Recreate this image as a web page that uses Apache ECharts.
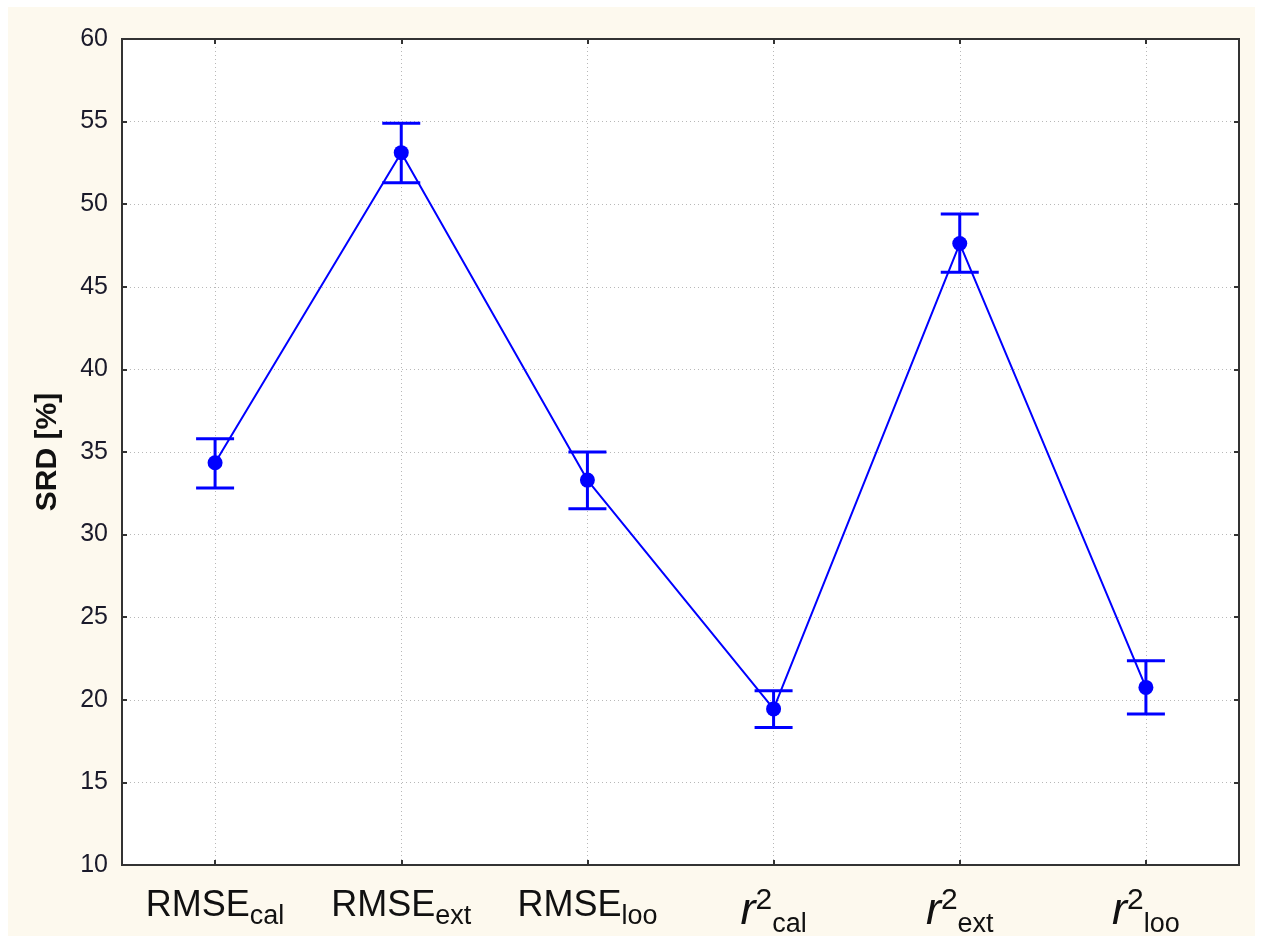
<!DOCTYPE html>
<html><head><meta charset="utf-8">
<script src="https://cdn.jsdelivr.net/npm/echarts@6/dist/echarts.min.js"></script>
<style>
html,body{margin:0;padding:0;background:#fff;}
#bg{position:absolute;left:8px;top:7px;width:1247px;height:929px;background:#fdf9ee;}
#chart{position:absolute;left:0;top:0;width:1263px;height:943px;}
</style></head><body>
<div id="bg"></div><div id="chart"></div>
<script>
// ---- data ----
const labelMain = ['RMSE', 'RMSE', 'RMSE', 'r', 'r', 'r'];
const labelSub = ['cal', 'ext', 'loo', 'cal', 'ext', 'loo'];
const means = [34.35, 53.12, 33.30, 19.45, 47.62, 20.75];
const lower = [32.82, 51.30, 31.56, 18.33, 45.88, 19.14];
const upper = [35.80, 54.90, 35.00, 20.55, 49.41, 22.37];
const yMin = 10, yMax = 60, yStep = 5;
const yName = 'SRD [%]';

const BLUE = '#0000ff';
const FONT = 'Liberation Sans, Arial, sans-serif';

function xLabel(value) {
  const i = Math.round(value);
  if (Math.abs(value - i) > 1e-6 || i < 0 || i >= labelMain.length) return '';
  if (labelMain[i] === 'r') return '{r|r}{p|2}{q|' + labelSub[i] + '}';
  return '{m|' + labelMain[i] + '}{s|' + labelSub[i] + '}';
}

const chart = echarts.init(document.getElementById('chart'), null, {renderer: 'canvas'});
const option = {
  animation: false,
  backgroundColor: 'transparent',
  grid: {
    left: 122, right: 24, top: 39, bottom: 78,
    show: true, backgroundColor: '#ffffff', borderColor: '#333', borderWidth: 2
  },
  xAxis: [{
    type: 'value', min: -0.5, max: labelMain.length - 0.5, splitNumber: 6,
    position: 'bottom',
    axisLine: {show: true, onZero: false, lineStyle: {color: '#333', width: 2}},
    axisTick: {show: true, inside: true, length: 5, lineStyle: {color: '#333', width: 2}},
    splitLine: {show: true, lineStyle: {color: '#b8b8b8', width: 1, type: [1, 3]}},
    axisLabel: {
      margin: 5, formatter: xLabel, color: '#111', fontFamily: FONT,
      rich: {
        m: {fontSize: 36, lineHeight: 36, fontFamily: FONT, color: '#111', verticalAlign: 'top', padding: [18, 0, 0, 0]},
        s: {fontSize: 27, lineHeight: 27, fontFamily: FONT, color: '#111', verticalAlign: 'top', padding: [33, 0, 0, 0]},
        r: {fontSize: 45, lineHeight: 45, fontFamily: FONT, fontStyle: 'italic', color: '#111', verticalAlign: 'top', padding: [19, 0, 0, 0]},
        p: {fontSize: 30, lineHeight: 30, fontFamily: FONT, color: '#111', verticalAlign: 'top', padding: [16, 0, 0, 0]},
        q: {fontSize: 27, lineHeight: 27, fontFamily: FONT, color: '#111', verticalAlign: 'top', padding: [41, 0, 0, 0]}
      }
    }
  }, {
    type: 'value', min: -0.5, max: labelMain.length - 0.5, splitNumber: 6,
    position: 'top',
    axisLine: {show: true, onZero: false, lineStyle: {color: '#333', width: 2}},
    axisTick: {show: true, inside: true, length: 5, lineStyle: {color: '#333', width: 2}},
    splitLine: {show: false},
    axisLabel: {show: false}
  }],
  yAxis: [{
    type: 'value', min: yMin, max: yMax, interval: yStep, position: 'left',
    name: yName, nameLocation: 'middle', nameGap: 59,
    nameTextStyle: {fontSize: 30, fontWeight: 'bold', color: '#111', fontFamily: FONT},
    axisLine: {show: true, onZero: false, lineStyle: {color: '#333', width: 2}},
    axisTick: {show: true, inside: true, length: 5, lineStyle: {color: '#333', width: 2}},
    splitLine: {show: true, lineStyle: {color: '#b8b8b8', width: 1, type: [1, 3]}},
    axisLabel: {fontSize: 25, color: '#1a1a2a', fontFamily: FONT, margin: 14}
  }, {
    type: 'value', min: yMin, max: yMax, interval: yStep, position: 'right',
    axisLine: {show: true, onZero: false, lineStyle: {color: '#333', width: 2}},
    axisTick: {show: true, inside: true, length: 5, lineStyle: {color: '#333', width: 2}},
    splitLine: {show: false},
    axisLabel: {show: false}
  }],
  series: [{
    type: 'custom',
    xAxisIndex: 0, yAxisIndex: 0,
    z: 3,
    data: lower.map((lo, i) => [i, lo, upper[i]]),
    renderItem: function (params, api) {
      const x = api.value(0);
      const pLo = api.coord([x, api.value(1)]);
      const pHi = api.coord([x, api.value(2)]);
      const hw = 19;
      const st = {stroke: BLUE, lineWidth: 3};
      return {type: 'group', children: [
        {type: 'line', shape: {x1: pLo[0], y1: pLo[1], x2: pHi[0], y2: pHi[1]}, style: st},
        {type: 'line', shape: {x1: pLo[0] - hw, y1: pLo[1], x2: pLo[0] + hw, y2: pLo[1]}, style: st},
        {type: 'line', shape: {x1: pHi[0] - hw, y1: pHi[1], x2: pHi[0] + hw, y2: pHi[1]}, style: st}
      ]};
    }
  }, {
    type: 'line',
    xAxisIndex: 0, yAxisIndex: 0,
    z: 4,
    data: means.map((v, i) => [i, v]),
    symbol: 'circle', symbolSize: 15,
    lineStyle: {color: BLUE, width: 2},
    itemStyle: {color: BLUE},
    label: {show: false}
  }]
};
chart.setOption(option);
</script>
</body></html>
